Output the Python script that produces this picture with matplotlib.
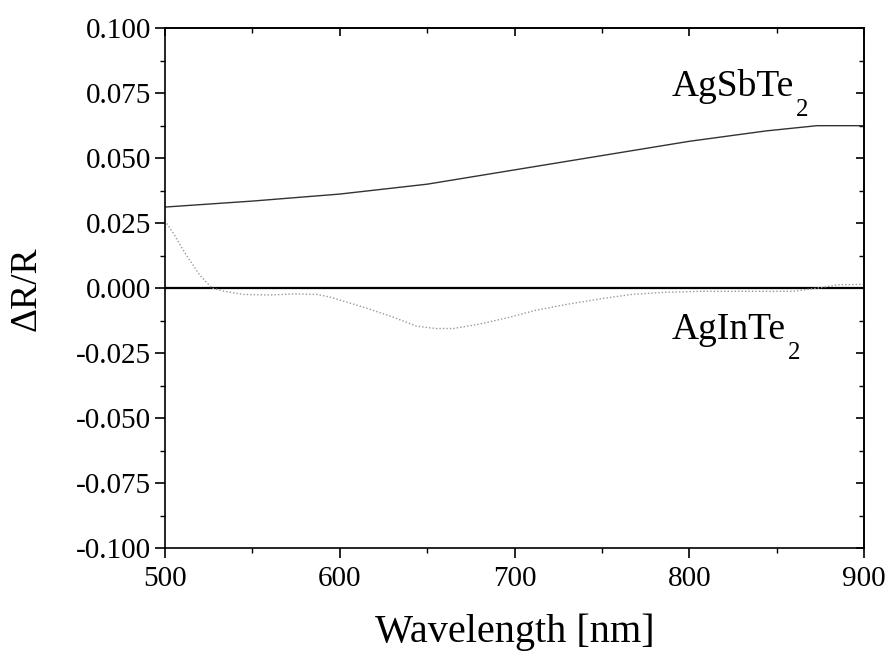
import numpy as np
import matplotlib.pyplot as plt
from matplotlib.ticker import MultipleLocator, NullFormatter

plt.rcParams['font.family'] = ['Liberation Serif', 'DejaVu Serif']

wl_sb = [500, 550, 600, 650, 700, 750, 800, 844, 873, 900]
dr_sb = [0.0312, 0.0335, 0.0362, 0.0400, 0.0455, 0.0510, 0.0565, 0.0605, 0.0625, 0.0625]

wl_in = [500, 505, 512, 520, 527, 535, 545, 560, 575, 587, 595, 615, 630,
         644, 655, 665, 680, 697, 712, 730, 750, 767, 785, 806, 830, 859,
         875, 885, 900]
dr_in = [0.0260, 0.0210, 0.0130, 0.0050, 0.0000, -0.0013, -0.0024, -0.0026,
         -0.0022, -0.0024, -0.0035, -0.0076, -0.0110, -0.0146, -0.0155,
         -0.0155, -0.0138, -0.0112, -0.0085, -0.0062, -0.0040, -0.0024,
         -0.0016, -0.0012, -0.0012, -0.0012, 0.0002, 0.0013, 0.0015]

fig = plt.figure(figsize=(8.91, 6.55), dpi=100)
ax = fig.add_axes([0.185, 0.163, 0.785, 0.794])

ax.axhline(0, color='black', lw=1.6)
ax.plot(wl_sb, dr_sb, color='#333333', lw=1.0)
ax.plot(wl_in, dr_in, color='#999999', lw=1.0, ls=(0, (1, 1.5)))

ax.set_xlim(500, 900)
ax.set_ylim(-0.1, 0.1)
ax.xaxis.set_major_locator(MultipleLocator(100))
ax.xaxis.set_minor_locator(MultipleLocator(50))
ax.yaxis.set_major_locator(MultipleLocator(0.025))
ax.yaxis.set_minor_locator(MultipleLocator(0.0125))
ax.yaxis.set_major_formatter(plt.FuncFormatter(lambda v, p: f'{v:.3f}'))
ax.tick_params(which='both', direction='out', labelsize=21)
ax.tick_params(which='major', length=7, width=1.2)
ax.tick_params(which='minor', length=3.6, width=1.0)
ax.tick_params(axis='x', pad=6)
ax.tick_params(axis='y', pad=3)
for s in ax.spines.values():
    s.set_linewidth(1.2)

# top and right ticks point inward, without labels
top = ax.secondary_xaxis('top')
right = ax.secondary_yaxis('right')
for sec, axis in ((top, top.xaxis), (right, right.yaxis)):
    axis.set_major_locator(MultipleLocator(100 if sec is top else 0.025))
    axis.set_minor_locator(MultipleLocator(50 if sec is top else 0.0125))
    axis.set_major_formatter(NullFormatter())
    sec.tick_params(which='both', direction='in')
    sec.tick_params(which='major', length=6, width=1.2)
    sec.tick_params(which='minor', length=3.6, width=1.0)
    for s in sec.spines.values():
        s.set_linewidth(1.2)

ax.set_xlabel('Wavelength [nm]', fontsize=29, labelpad=15)
ax.set_ylabel('ΔR/R', fontsize=27, labelpad=23)

t1 = ax.text(790, 0.0741, 'AgSbTe', fontsize=27, ha='left', va='baseline')
ax.annotate('2', xy=(1, 0), xycoords=t1, xytext=(2, 5),
            textcoords='offset pixels', fontsize=18, ha='left', va='top')
t2 = ax.text(790, -0.0195, 'AgInTe', fontsize=27, ha='left', va='baseline')
ax.annotate('2', xy=(1, 0), xycoords=t2, xytext=(2, 5),
            textcoords='offset pixels', fontsize=18, ha='left', va='top')

fig.savefig('out.png', dpi=100)
